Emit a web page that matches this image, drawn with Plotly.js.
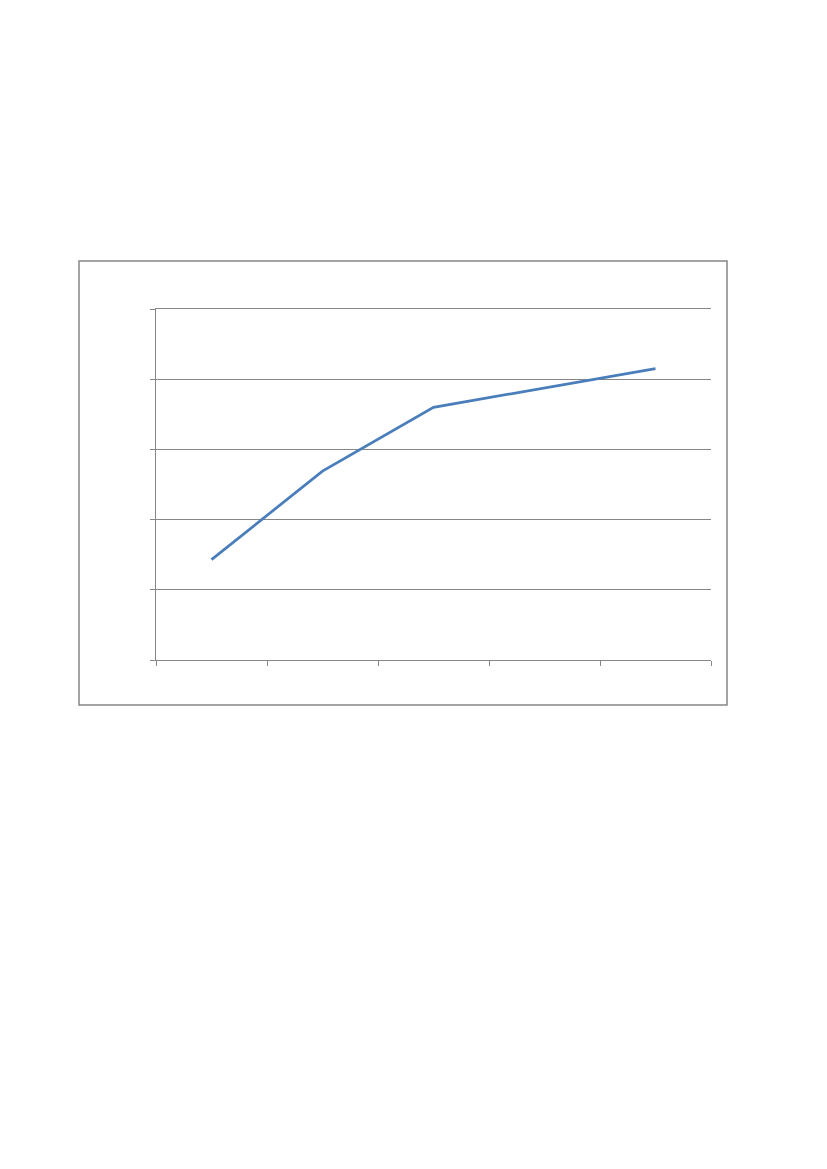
<!DOCTYPE html>
<html>
<head>
<meta charset="utf-8">
<script src="https://cdn.plot.ly/plotly-3.0.1.min.js"></script>
<style>html,body{margin:0;padding:0;background:#fff;}#chart{width:827px;height:1169px;}</style>
</head>
<body>
<div id="chart"></div>
<script>
var categories = [1, 2, 3, 4, 5];
var seriesValues = [1.43, 2.69, 3.60, 3.87, 4.15];
var categoryBoundaries = [0.5, 1.5, 2.5, 3.5, 4.5, 5.5];
var valueTicks = [0, 1, 2, 3, 4, 5];

var W = 827, H = 1169;
var trace = {
  x: categories,
  y: seriesValues,
  type: 'scatter',
  mode: 'lines',
  line: {color: '#4A7EBB', width: 2.75},
  hoverinfo: 'none'
};
var layout = {
  width: W, height: H,
  margin: {l: 0, r: 0, t: 0, b: 0},
  paper_bgcolor: '#ffffff',
  plot_bgcolor: '#ffffff',
  showlegend: false,
  xaxis: {
    domain: [156 / W, 711 / W],
    range: [0.5, 5.5],
    tickmode: 'array', tickvals: categoryBoundaries,
    showticklabels: false,
    ticks: 'outside', ticklen: 5, tickcolor: '#868686', tickwidth: 1,
    showgrid: false, zeroline: false,
    showline: true, mirror: true, linecolor: '#868686', linewidth: 1
  },
  yaxis: {
    domain: [1 - 660 / H, 1 - 309 / H],
    range: [0, 5],
    tickmode: 'array', tickvals: valueTicks,
    showticklabels: false,
    ticks: 'outside', ticklen: 5, tickcolor: '#868686', tickwidth: 1,
    showgrid: true, gridcolor: '#868686', gridwidth: 1,
    zeroline: false,
    showline: true, linecolor: '#868686', linewidth: 1
  },
  shapes: [{
    type: 'rect', xref: 'paper', yref: 'paper',
    x0: 79 / W, x1: 727 / W, y0: 1 - 705 / H, y1: 1 - 261 / H,
    line: {color: '#868686', width: 1.5}, fillcolor: 'rgba(0,0,0,0)', layer: 'below'
  }]
};
Plotly.newPlot('chart', [trace], layout, {staticPlot: true, displayModeBar: false});
</script>
</body>
</html>
